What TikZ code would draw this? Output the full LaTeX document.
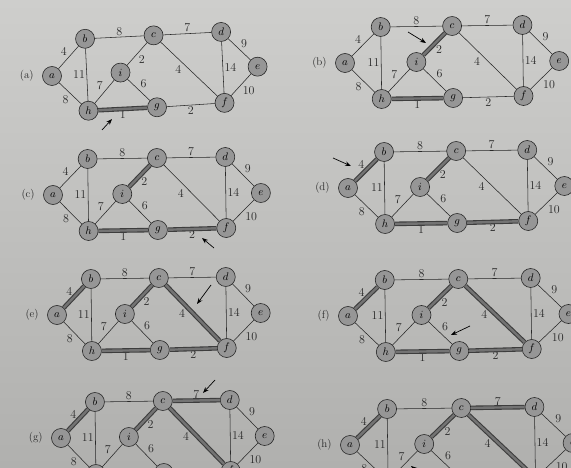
\documentclass[tikz,border=0pt]{standalone}
\usetikzlibrary{arrows.meta, positioning, calc}
\definecolor{paperhi}{RGB}{206,206,204}
\definecolor{paperlo}{RGB}{176,176,174}
\definecolor{vfill}{RGB}{150,150,150}
\definecolor{ink}{RGB}{40,40,40}
\tikzset{
  vtx/.style     = {draw=ink, circle, fill=vfill, line width=0.6pt,
                    minimum size=19pt, inner sep=0pt,
                    font=\fontsize{11}{12}\selectfont},
  edge/.style    = {draw=ink, line width=0.55pt},
  tree/.style    = {draw=ink!90, double=black!55, double distance=2.4pt,
                    line width=1.1pt},
  wlab/.style    = {font=\fontsize{12}{14}\selectfont, text=ink,
                    inner sep=1.5pt},
  farleft/.style = {left=6pt},
  tag/.style     = {font=\fontsize{11}{13}\selectfont, text=ink},
  pointer/.style = {draw=black, line width=0.7pt,
                    -{Stealth[length=6pt, width=4.5pt]}},
}
% #1 prefix, #2 place of a, #3 scope options, #4 tag, #5 tree edges
\newcommand{\kgraph}[5]{%
  \begin{scope}[shift={#2}, #3]
    \foreach \v/\x/\y in {a/0/0, b/35/36, c/105/37, d/174/38, e/210/2,
                          f/175/-33, g/106/-35, h/36/-36, i/70/1}
      \node[vtx] (#1-\v) at (\x,\y) {$\v$};
  \end{scope}
  \node[tag, left=5pt of #1-a] (#1-tag) {(#4)};
  \foreach \u/\w/\wt/\side in {a/b/4/above left, b/c/8/above, c/d/7/above,
      d/e/9/above right, e/f/10/below right, d/f/14/right, c/f/4/farleft,
      c/i/2/below right, i/g/6/above right, h/i/7/above left, b/h/11/left,
      a/h/8/below left, h/g/1/below, g/f/2/below}
    \draw[edge] (#1-\u) -- node[wlab, \side] {\wt} (#1-\w);
  \foreach \u/\w in {#5}
    \draw[tree] (#1-\u) -- (#1-\w);
}
% #1 prefix, #2 tail, #3 tip
\newcommand{\markedge}[3]{%
  \coordinate (#1-tail) at #2;
  \coordinate (#1-tip)  at #3;
  \draw[pointer] (#1-tail) -- (#1-tip);
}

\begin{document}
\begin{tikzpicture}[x=1pt, y=1pt]

  %%──────────────────────────────────────────────────────────────────────────
  %%  PAGE
  %%──────────────────────────────────────────────────────────────────────────
  \useasboundingbox (0,0) rectangle (571,-468);
  \clip (0,0) rectangle (571,-468);
  \shade[top color=paperhi, bottom color=paperlo] (0,0) rectangle (571,-468);

  %%──────────────────────────────────────────────────────────────────────────
  %%  LEFT COLUMN
  %%──────────────────────────────────────────────────────────────────────────
  \kgraph{pa}{(52,-76)}{xscale=0.98, rotate=2}{a}{h/g}
  \markedge{pa}{(102,-130)}{(112,-119)}

  \kgraph{pc}{(53,-195)}{xscale=0.99}{c}{h/g, c/i, g/f}
  \markedge{pc}{(214,-248)}{(202,-238)}

  \kgraph{pe}{(57,-315)}{xscale=0.97}{e}{h/g, c/i, g/f, a/b, c/f}
  \markedge{pe}{(211,-285)}{(197,-304)}

  \kgraph{pg}{(61,-438)}{xscale=0.97}{g}{h/g, c/i, g/f, a/b, c/f, c/d}
  \markedge{pg}{(215,-380)}{(203,-393)}

  %%──────────────────────────────────────────────────────────────────────────
  %%  RIGHT COLUMN
  %%──────────────────────────────────────────────────────────────────────────
  \kgraph{pb}{(345,-63)}{xscale=1.02}{b}{h/g, c/i}
  \markedge{pb}{(408,-32)}{(426,-43)}

  \kgraph{pd}{(348,-188)}{xscale=1.03}{d}{h/g, c/i, g/f, a/b}
  \markedge{pd}{(333,-158)}{(351,-166)}

  \kgraph{pf}{(348,-316)}{xscale=1.05}{f}{h/g, c/i, g/f, a/b, c/f}
  \markedge{pf}{(470,-326)}{(451,-335)}

  \kgraph{ph}{(350,-445)}{xscale=1.06}{h}{h/g, c/i, g/f, a/b, c/f, c/d}
  \markedge{ph}{(426,-478)}{(411,-466)}

\end{tikzpicture}
\end{document}
